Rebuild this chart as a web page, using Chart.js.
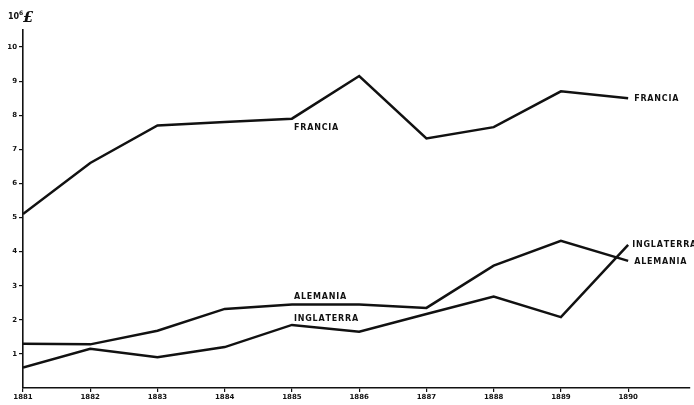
<!DOCTYPE html>
<html>
<head>
<meta charset="utf-8">
<script src="https://cdn.jsdelivr.net/npm/chart.js@4"></script>
<style>
  html, body { margin: 0; padding: 0; background: #fff; }
  #wrap { width: 694px; height: 405px; position: relative; }
</style>
</head>
<body>
<div id="wrap"><canvas id="chart"></canvas></div>
<script>
// --- DATOS ---
const years = [1881, 1882, 1883, 1884, 1885, 1886, 1887, 1888, 1889, 1890];
const francia = [5.1, 6.6, 7.7, 7.8, 7.9, 9.15, 7.32, 7.65, 8.7, 8.5];
const alemania = [1.3, 1.28, 1.68, 2.32, 2.45, 2.45, 2.35, 3.59, 4.32, 3.73];
const inglaterra = [0.6, 1.15, 0.9, 1.2, 1.85, 1.65, 2.17, 2.68, 2.08, 4.2];
const yTicks = [1, 2, 3, 4, 5, 6, 7, 8, 9, 10];

// rótulos sobre las curvas: [texto, año, valor, dx, dy]
const lineLabels = [
  ['FRANCIA', 1885, 7.9, 2, 9],
  ['FRANCIA', 1890, 8.5, 6, 1],
  ['ALEMANIA', 1885, 2.45, 2, -8],
  ['INGLATERRA', 1885, 1.85, 2, -6],
  ['INGLATERRA', 1890, 4.2, 4, 0],
  ['ALEMANIA', 1890, 3.73, 6, 1]
];

const toPoints = arr => arr.map((v, i) => ({ x: years[i], y: v }));
const font = '"DejaVu Sans", sans-serif';

const labelsPlugin = {
  id: 'labels',
  afterDraw(chart) {
    const ctx = chart.ctx;
    const xs = chart.scales.x, ys = chart.scales.y;
    ctx.save();
    ctx.fillStyle = '#111';
    ctx.font = 'bold 8px ' + font;
    ctx.textBaseline = 'middle';
    ctx.textAlign = 'left';
    lineLabels.forEach(([t, x, y, dx, dy]) => {
      ctx.fillText(t.split('').join('\u200A'), xs.getPixelForValue(x) + dx, ys.getPixelForValue(y) + dy);
    });
    // unidad del eje
    ctx.font = 'bold 8px ' + font;
    ctx.fillText('10', 8, 17);
    ctx.font = 'bold 6px ' + font;
    ctx.fillText('6', 19, 13);
    ctx.font = 'italic bold 15px "DejaVu Serif", serif';
    ctx.fillText('£', 23, 18);
    ctx.restore();
  }
};

const lineStyle = { borderColor: '#111', borderWidth: 2.5, pointRadius: 0, tension: 0, fill: false };

new Chart(document.getElementById('chart').getContext('2d'), {
  type: 'line',
  data: {
    datasets: [
      { label: 'Francia', data: toPoints(francia), ...lineStyle },
      { label: 'Alemania', data: toPoints(alemania), ...lineStyle },
      { label: 'Inglaterra', data: toPoints(inglaterra), ...lineStyle }
    ]
  },
  options: {
    responsive: true,
    maintainAspectRatio: false,
    animation: false,
    layout: { padding: { top: 30, right: 4, left: 0, bottom: 0 } },
    plugins: { legend: { display: false }, tooltip: { enabled: false } },
    scales: {
      x: {
        type: 'linear',
        min: 1881,
        max: 1890.92,
        afterBuildTicks: s => { s.ticks = years.map(v => ({ value: v })); },
        afterFit: s => { s.height = 17; },
        grid: { drawOnChartArea: false, tickLength: 4, color: '#111', lineWidth: 1.2 },
        border: { color: '#111', width: 1.6 },
        ticks: { color: '#111', font: { family: font, size: 7, weight: 'bold' }, padding: 1, maxRotation: 0, callback: v => String(v) }
      },
      y: {
        min: 0,
        max: 10.5,
        afterBuildTicks: s => { s.ticks = yTicks.map(v => ({ value: v })); },
        afterFit: s => { s.width = 23; },
        grid: { drawOnChartArea: false, tickLength: 4, color: '#111', lineWidth: 1.2 },
        border: { color: '#111', width: 1.6 },
        ticks: { color: '#111', font: { family: font, size: 7, weight: 'bold' }, padding: 2 }
      }
    }
  },
  plugins: [labelsPlugin]
});
</script>
</body>
</html>
